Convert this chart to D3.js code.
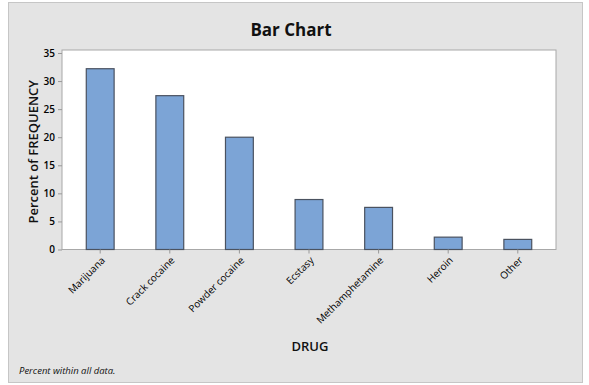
<!DOCTYPE html>
<html>
<head>
  <meta charset="utf-8">
  <script src="https://d3js.org/d3.v7.min.js"></script>
  <style>
    body { margin: 0; background: #fff; }
    text { font-family: "Open Sans", "Noto Sans", sans-serif; fill: #111; }
  </style>
</head>
<body>
<script>
  // chart data
  var drugs = ["Marijuana", "Crack cocaine", "Powder cocaine", "Ecstasy",
               "Methamphetamine", "Heroin", "Other"];
  var percents = [32.2, 27.4, 20.0, 8.9, 7.5, 2.2, 1.8];
  var yTicks = [0, 5, 10, 15, 20, 25, 30, 35];

  var W = 589, H = 385;
  var plot = { left: 62, right: 556, top: 50, bottom: 249.5 };

  var svg = d3.select("body").append("svg")
      .attr("width", W).attr("height", H);

  // outer grey panel
  svg.append("rect")
      .attr("x", 8.5).attr("y", 2.5)
      .attr("width", 574).attr("height", 380)
      .attr("fill", "#e4e4e4")
      .attr("stroke", "#c6c6c6");

  // plot area
  svg.append("rect")
      .attr("x", plot.left).attr("y", plot.top)
      .attr("width", plot.right - plot.left)
      .attr("height", plot.bottom - plot.top)
      .attr("fill", "#fff")
      .attr("stroke", "#a8a8a8");

  var x = d3.scaleBand()
      .domain(drugs)
      .range([plot.left + 3.4, plot.right - 3.4])
      .paddingInner(0.6)
      .paddingOuter(0.3);

  var y = d3.scaleLinear()
      .domain([0, 35])
      .range([plot.bottom, 53]);

  svg.selectAll("rect.bar")
      .data(drugs)
      .enter().append("rect")
      .attr("class", "bar")
      .attr("x", function (d) { return x(d); })
      .attr("width", x.bandwidth())
      .attr("y", function (d, i) { return y(percents[i]); })
      .attr("height", function (d, i) { return plot.bottom - y(percents[i]); })
      .attr("fill", "#7ca4d6")
      .attr("stroke", "#4a5260")
      .attr("stroke-width", 1.2);

  // y axis
  var yAxis = svg.append("g")
      .attr("transform", "translate(" + plot.left + ",0)")
      .call(d3.axisLeft(y).tickValues(yTicks).tickSize(4).tickPadding(3));
  yAxis.select(".domain").remove();
  yAxis.selectAll("line").attr("stroke", "#999");
  yAxis.selectAll("text").style("font-size", "10px").style("fill", "#000")
      .style("font-weight", "600");

  // x axis
  var xAxis = svg.append("g")
      .attr("transform", "translate(0," + plot.bottom + ")")
      .call(d3.axisBottom(x).tickSize(4).tickPadding(4));
  xAxis.select(".domain").remove();
  xAxis.selectAll("line").attr("stroke", "#999");
  xAxis.selectAll("text")
      .style("font-size", "10px").style("fill", "#000")
      .attr("x", 0).attr("y", 0)
      .attr("text-anchor", "end")
      .attr("dy", "0.35em")
      .attr("transform", "translate(3,9) rotate(-45)");

  // titles
  svg.append("text")
      .attr("x", 291).attr("y", 36)
      .attr("text-anchor", "middle")
      .style("font-size", "17px").style("font-weight", "bold")
      .text("Bar Chart");

  svg.append("text")
      .attr("transform", "translate(38," + ((plot.top + plot.bottom) / 2 + 2) + ") rotate(-90)")
      .attr("text-anchor", "middle")
      .style("font-size", "13px").style("font-weight", "600")
      .text("Percent of FREQUENCY");

  svg.append("text")
      .attr("x", 310).attr("y", 351)
      .attr("text-anchor", "middle")
      .style("font-size", "13px").style("font-weight", "600")
      .text("DRUG");

  svg.append("text")
      .attr("x", 19).attr("y", 374)
      .style("font-size", "9.5px").style("font-style", "italic")
      .text("Percent within all data.");
</script>
</body>
</html>
